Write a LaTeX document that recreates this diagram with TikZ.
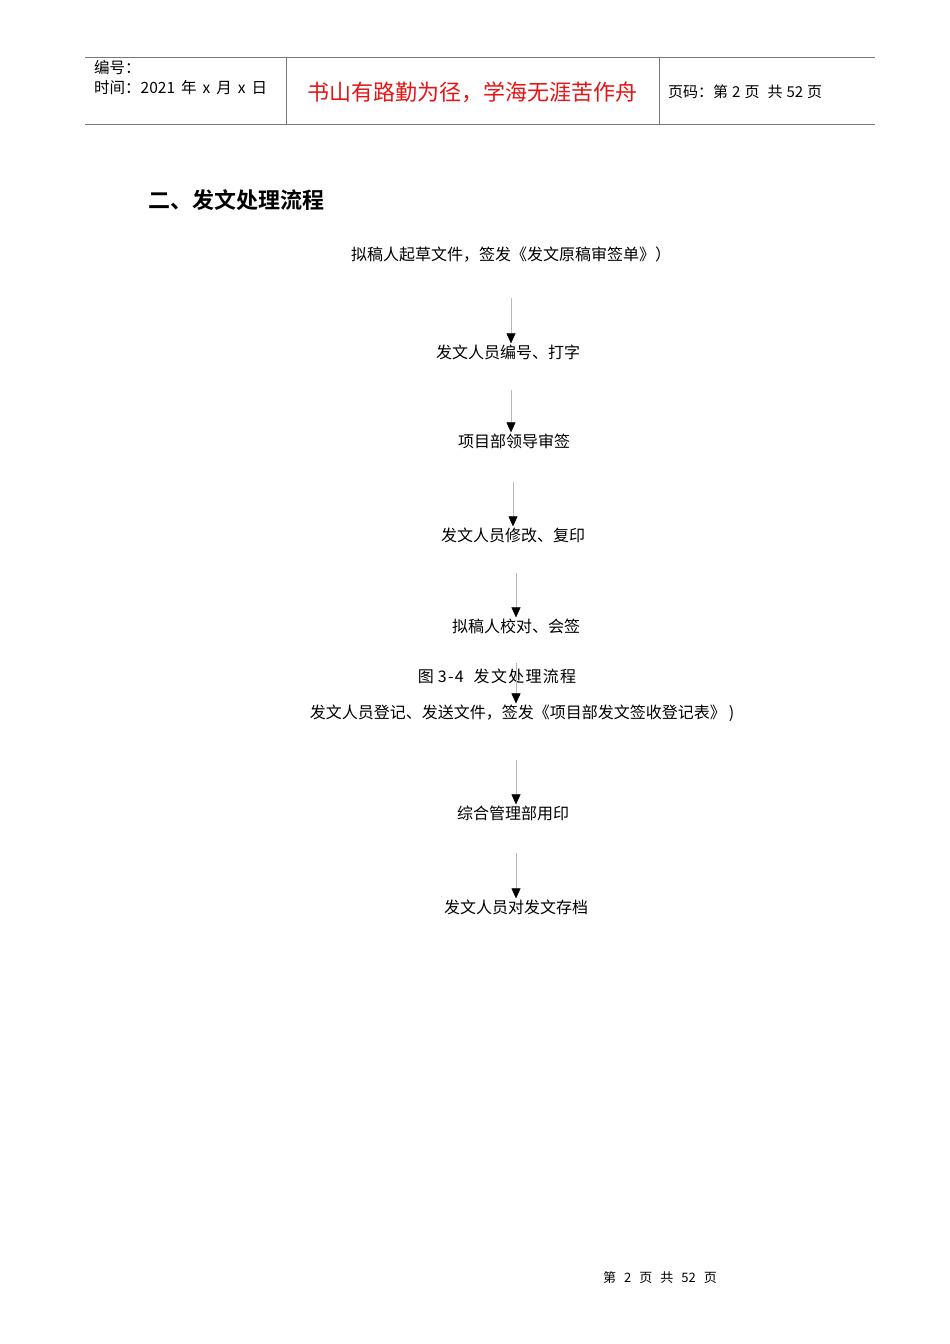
\documentclass[tikz,border=0pt]{standalone}
\usepackage{fontspec}
\setmainfont{Liberation Sans}
\newfontfamily\cjk{Noto Sans CJK SC}
\newfontfamily\cjkbold{Noto Sans CJK SC Bold}
\newfontfamily\cjkwide[LetterSpace=8]{Noto Sans CJK SC}
\usetikzlibrary{arrows.meta}

\definecolor{rulegray}{RGB}{120,120,120}
\definecolor{mottored}{RGB}{230,20,20}

\tikzset{
  flowtext/.style={inner sep=1pt, font=\cjk\fontsize{16}{18}\selectfont},
  headtext/.style={inner sep=0pt, anchor=west, font=\cjk\fontsize{15.5}{18}\selectfont},
  flowarrow/.style={draw=black!28, line width=0.5pt,
    -{Triangle[length=10pt,width=9pt,color=black]}},
}
\newcommand{\gap}[1]{\hspace{#1pt}}

\begin{document}
\begin{tikzpicture}[x=1pt, y=-1pt]
  \useasboundingbox[fill=white] (0,0) rectangle (950,1344);

  % Header table
  \draw[rulegray, line width=0.8pt] (85,57) -- (875,57);
  \draw[rulegray, line width=0.8pt] (85,124) -- (875,124);
  \draw[rulegray, line width=0.8pt] (286,57) -- (286,124);
  \draw[rulegray, line width=0.8pt] (659,57) -- (659,124);
  \node[headtext] (hnum) at (94,68) {编号：};
  \node[headtext] (hdate) at (94,88) {时间：2021\gap{6}年\gap{6}x\gap{6}月\gap{6}x\gap{6}日};
  \node[inner sep=0pt, text=mottored, font=\cjk\fontsize{22}{26}\selectfont] (motto) at (472,92) {书山有路勤为径，学海无涯苦作舟};
  \node[headtext, font=\cjk\fontsize{15}{18}\selectfont] (hpage) at (668,92) {页码：第\gap{4}2\gap{4}页\gap{8}共\gap{4}52\gap{4}页};

  % Section title
  \node[anchor=west, inner sep=0pt, font=\cjkbold\fontsize{22}{26}\selectfont] (title) at (148,200) {二、发文处理流程};

  % Flow steps
  \node[flowtext] (s1) at (511,255) {拟稿人起草文件，签发《发文原稿审签单》）};
  \node[flowtext] (s2) at (508,352) {发文人员编号、打字};
  \node[flowtext] (s3) at (514,441) {项目部领导审签};
  \node[flowtext] (s4) at (513,535) {发文人员修改、复印};
  \node[flowtext] (s5) at (516,626) {拟稿人校对、会签};
  \node[flowtext, font=\cjkwide\fontsize{16}{18}\selectfont] (cap) at (497,676) {图\gap{4}3-4\gap{10}发文处理流程};
  \node[flowtext] (s6) at (522,713) {发文人员登记、发送文件，签发《项目部发文签收登记表》\gap{3})};
  \node[flowtext] (s7) at (513,813) {综合管理部用印};
  \node[flowtext] (s8) at (516,907) {发文人员对发文存档};

  % Arrow starts
  \coordinate (a1) at (511,298);
  \coordinate (a2) at (511,390);
  \coordinate (a3) at (513,482);
  \coordinate (a4) at (516,573);
  \coordinate (a5) at (516,663);
  \coordinate (a6) at (516,760);
  \coordinate (a7) at (516,853);

  % Arrows
  \draw[flowarrow] (a1) -- (a1 |- s2.north);
  \draw[flowarrow] (a2) -- (a2 |- s3.north);
  \draw[flowarrow] (a3) -- (a3 |- s4.north);
  \draw[flowarrow] (a4) -- (a4 |- s5.north);
  \draw[flowarrow] (a5) -- (a5 |- s6.north);
  \draw[flowarrow] (a6) -- (a6 |- s7.north);
  \draw[flowarrow] (a7) -- (a7 |- s8.north);

  % Footer
  \node[inner sep=0pt, font=\cjk\fontsize{13}{16}\selectfont] (foot) at (660,1278) {第\gap{8}2\gap{8}页\gap{8}共\gap{8}52\gap{8}页};
\end{tikzpicture}
\end{document}
